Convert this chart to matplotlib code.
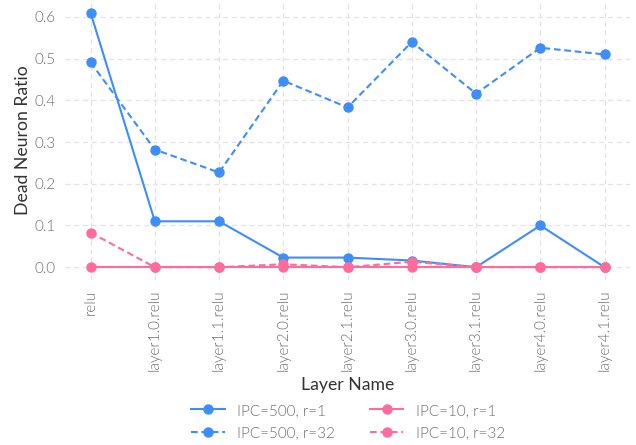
import matplotlib
matplotlib.use("Agg")
import matplotlib.pyplot as plt

layers = ["relu", "layer1.0.relu", "layer1.1.relu", "layer2.0.relu", "layer2.1.relu",
          "layer3.0.relu", "layer3.1.relu", "layer4.0.relu", "layer4.1.relu"]

ipc500_r1 = [0.61, 0.11, 0.11, 0.023, 0.023, 0.016, 0.0, 0.10, 0.0]
ipc500_r32 = [0.491, 0.282, 0.227, 0.447, 0.383, 0.540, 0.416, 0.526, 0.510]
ipc10_r1 = [0.0, 0.0, 0.0, 0.0, 0.0, 0.0, 0.0, 0.0, 0.0]
ipc10_r32 = [0.083, 0.0, 0.0, 0.007, 0.0, 0.013, 0.0, 0.0, 0.0]

blue = "#3d8ef7"
pink = "#ff6b9b"
tick_grey = "#6e6e6e"

plt.rcParams["font.family"] = ["Lato", "DejaVu Sans"]

fig = plt.figure(figsize=(6.36, 4.45), dpi=100)
ax = fig.add_axes([0.102, 0.371, 0.889, 0.629])

x = list(range(len(layers)))
dash = (0, (3.2, 1.8))
series = [
    (ipc500_r1, blue, "-", "IPC=500, r=1"),
    (ipc500_r32, blue, dash, "IPC=500, r=32"),
    (ipc10_r1, pink, "-", "IPC=10, r=1"),
    (ipc10_r32, pink, dash, "IPC=10, r=32"),
]
handles = {}
for vals, col, ls, lab in series:
    (h,) = ax.plot(x, vals, color=col, linestyle=ls, linewidth=1.5,
                   marker="o", markersize=6.5, label=lab)
    handles[lab] = h

ax.set_xticks(x)
ax.set_xticklabels(layers, rotation=90)
yt = [0.0, 0.1, 0.2, 0.3, 0.4, 0.5, 0.6]
ax.set_yticks(yt)
ax.set_yticklabels([f"{v:.1f}" for v in yt])
ax.tick_params(axis="both", length=0, labelsize=11, labelcolor=tick_grey, pad=7)
for t in ax.get_xticklabels() + ax.get_yticklabels():
    t.set_fontweight(300)

ax.grid(True, color="#e3e3e3", linestyle=(0, (4, 3)), linewidth=0.9)
ax.set_axisbelow(True)
for s in ax.spines.values():
    s.set_visible(False)

ax.set_xlabel("Layer Name", fontsize=12.7, color="#333333", labelpad=4)
ax.set_ylabel("Dead Neuron Ratio", fontsize=12.7, color="#333333", labelpad=2)

order = ["IPC=500, r=1", "IPC=500, r=32", "IPC=10, r=1", "IPC=10, r=32"]
leg = fig.legend([handles[k] for k in order], order, loc="center",
                 bbox_to_anchor=(0.547, 0.052), ncol=2, frameon=False,
                 fontsize=11, handlelength=2.2, columnspacing=2.3,
                 labelspacing=0.55, handletextpad=0.8, borderpad=0.2)
for t in leg.get_texts():
    t.set_color(tick_grey)
    t.set_fontweight(300)

fig.savefig("out.png", dpi=100)
